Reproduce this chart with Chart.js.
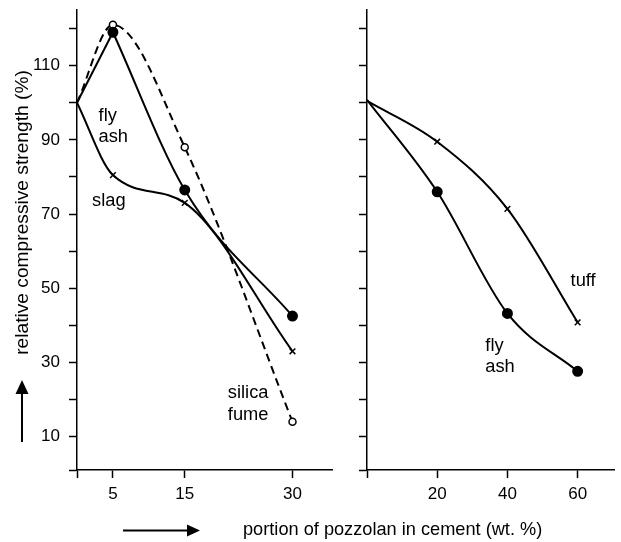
<!DOCTYPE html>
<html>
<head>
<meta charset="utf-8">
<script src="https://cdn.jsdelivr.net/npm/chart.js@4"></script>
<style>
  html, body { margin: 0; padding: 0; background: #fff; }
  #wrap { position: relative; width: 621px; height: 542px; }
  #wrap canvas { position: absolute; left: 0; top: 0; }
</style>
</head>
<body>
<div id="wrap">
  <canvas id="leftChart" width="621" height="542"></canvas>
  <canvas id="rightChart" width="621" height="542"></canvas>
</div>
<script>
// left panel: pozzolan 0..30 %
const leftX = [0, 5, 15, 30];
const flyAshLeft = [100, 119, 76.5, 42.5];
const silicaFume = [100, 121, 88, 14];
const slag = [100, 80.5, 73, 33];

// right panel: pozzolan 0..60 %
const rightX = [0, 20, 40, 60];
const flyAshRight = [100.8, 76, 43.2, 27.6];
const tuff = [100.5, 89.5, 71.4, 40.8];

const yTicks = [1, 10, 20, 30, 40, 50, 60, 70, 80, 90, 100, 110, 120];
const yLabels = [10, 30, 50, 70, 90, 110];
const leftXTicks = [0, 5, 15, 30];
const rightXTicks = [0, 20, 40, 60];

const leftLabels = [
  { lines: ['fly', 'ash'], x: 3, y: 95.2 },
  { lines: ['slag'], x: 2.1, y: 72.3 },
  { lines: ['silica', 'fume'], x: 21, y: 20.4 }
];
const rightLabels = [
  { lines: ['tuff'], x: 58, y: 50.7 },
  { lines: ['fly', 'ash'], x: 33.7, y: 33.2 }
];

const FONT = 'Arial, "Liberation Sans", Helvetica, sans-serif';
Chart.defaults.font.family = FONT;
Chart.defaults.font.size = 17;
Chart.defaults.color = '#000';

const pts = (xs, ys) => xs.map((x, i) => ({ x: x, y: ys[i] }));

function lineSet(xs, ys, style) {
  return Object.assign({
    data: pts(xs, ys),
    borderColor: '#000',
    borderWidth: 2,
    cubicInterpolationMode: 'monotone',
    pointBorderColor: '#000',
    pointBackgroundColor: '#000',
    fill: false
  }, style);
}

// curve names and axis titles, drawn at data positions
const textPlugin = {
  id: 'curveText',
  afterDraw(chart, args, opts) {
    const ctx = chart.ctx;
    const sx = chart.scales.x, sy = chart.scales.y;
    ctx.save();
    ctx.fillStyle = '#000';
    ctx.font = '18.3px ' + FONT;
    ctx.textAlign = 'left';
    ctx.textBaseline = 'alphabetic';
    (opts.labels || []).forEach(l => {
      const px = sx.getPixelForValue(l.x);
      const py = sy.getPixelForValue(l.y);
      l.lines.forEach((t, i) => ctx.fillText(t, px, py + i * 21.5));
    });

    if (opts.titles) {
      // y title, rotated
      ctx.save();
      ctx.font = '19.2px ' + FONT;
      ctx.translate(28, 212.5);
      ctx.rotate(-Math.PI / 2);
      ctx.textAlign = 'center';
      ctx.fillText('relative compressive strength (%)', 0, 0);
      ctx.restore();
      // up arrow
      ctx.strokeStyle = '#000';
      ctx.lineWidth = 2;
      ctx.beginPath();
      ctx.moveTo(22, 442);
      ctx.lineTo(22, 390);
      ctx.stroke();
      ctx.beginPath();
      ctx.moveTo(22, 380);
      ctx.lineTo(15.5, 394);
      ctx.lineTo(28.5, 394);
      ctx.closePath();
      ctx.fill();
      // x title
      ctx.font = '18.2px ' + FONT;
      ctx.textAlign = 'left';
      ctx.fillText('portion of pozzolan in cement (wt. %)', 243, 535);
      // right arrow
      ctx.beginPath();
      ctx.moveTo(123, 530.5);
      ctx.lineTo(190, 530.5);
      ctx.stroke();
      ctx.beginPath();
      ctx.moveTo(200, 530.5);
      ctx.lineTo(187, 524.5);
      ctx.lineTo(187, 536.5);
      ctx.closePath();
      ctx.fill();
    }
    ctx.restore();
  }
};

function axes(xMax, xTicks, yWidth, showYLabels) {
  const grid = {
    display: true,
    drawOnChartArea: false,
    drawTicks: true,
    tickLength: 8,
    tickWidth: 1.5,
    tickColor: '#000'
  };
  const border = { display: true, color: '#000', width: 1.5 };
  return {
    x: {
      type: 'linear',
      min: 0,
      max: xMax,
      afterBuildTicks: s => { s.ticks = xTicks.map(v => ({ value: v })); },
      afterFit: s => {
        s.height = 72;
        s.paddingLeft = 0;
        s.paddingRight = 0;
      },
      ticks: {
        autoSkip: false,
        maxRotation: 0,
        padding: 6,
        color: '#000',
        callback: v => (v === 0 ? '' : String(v))
      },
      grid: grid,
      border: border
    },
    y: {
      type: 'linear',
      min: 1,
      max: 125,
      afterBuildTicks: s => { s.ticks = yTicks.map(v => ({ value: v })); },
      afterFit: s => {
        s.width = yWidth;
        s.paddingTop = 0;
        s.paddingBottom = 0;
      },
      ticks: {
        autoSkip: false,
        padding: 9,
        color: '#000',
        callback: v => (showYLabels && yLabels.includes(v) ? String(v) : '')
      },
      grid: grid,
      border: border
    }
  };
}

const baseOptions = {
  responsive: false,
  animation: false,
  devicePixelRatio: 1,
  events: []
};

// fly ash on the left has a sharp peak at 5 %, so the rise and the fall are drawn as two pieces
new Chart(document.getElementById('leftChart'), {
  type: 'line',
  data: {
    datasets: [
      lineSet(leftX.slice(0, 2), flyAshLeft.slice(0, 2), {
        label: 'fly ash (rise)',
        pointRadius: 0
      }),
      lineSet(leftX.slice(1), flyAshLeft.slice(1), {
        label: 'fly ash',
        pointStyle: 'circle',
        pointRadius: 4.5
      }),
      lineSet(leftX, silicaFume, {
        label: 'silica fume',
        borderDash: [8, 5],
        pointStyle: 'circle',
        pointBackgroundColor: '#fff',
        pointBorderWidth: 1.5,
        pointRadius: [0, 3.5, 3.5, 3.5]
      }),
      lineSet(leftX, slag, {
        label: 'slag',
        pointStyle: 'crossRot',
        pointBorderWidth: 1.5,
        pointRadius: [0, 4, 4, 4]
      })
    ]
  },
  options: Object.assign({}, baseOptions, {
    layout: { padding: { left: 0, right: 289, top: 10, bottom: 0 } },
    scales: axes(35.5, leftXTicks, 77, true),
    plugins: {
      legend: { display: false },
      tooltip: { enabled: false },
      curveText: { labels: leftLabels, titles: true }
    }
  }),
  plugins: [textPlugin]
});

new Chart(document.getElementById('rightChart'), {
  type: 'line',
  data: {
    datasets: [
      lineSet(rightX, flyAshRight, {
        label: 'fly ash',
        pointStyle: 'circle',
        pointRadius: [0, 4.5, 4.5, 4.5]
      }),
      lineSet(rightX, tuff, {
        label: 'tuff',
        pointStyle: 'crossRot',
        pointBorderWidth: 1.5,
        pointRadius: [0, 4, 4, 4]
      })
    ]
  },
  options: Object.assign({}, baseOptions, {
    layout: { padding: { left: 347, right: 1, top: 10, bottom: 0 } },
    scales: axes(70.5, rightXTicks, 20, false),
    plugins: {
      legend: { display: false },
      tooltip: { enabled: false },
      curveText: { labels: rightLabels }
    }
  }),
  plugins: [textPlugin]
});
</script>
</body>
</html>
